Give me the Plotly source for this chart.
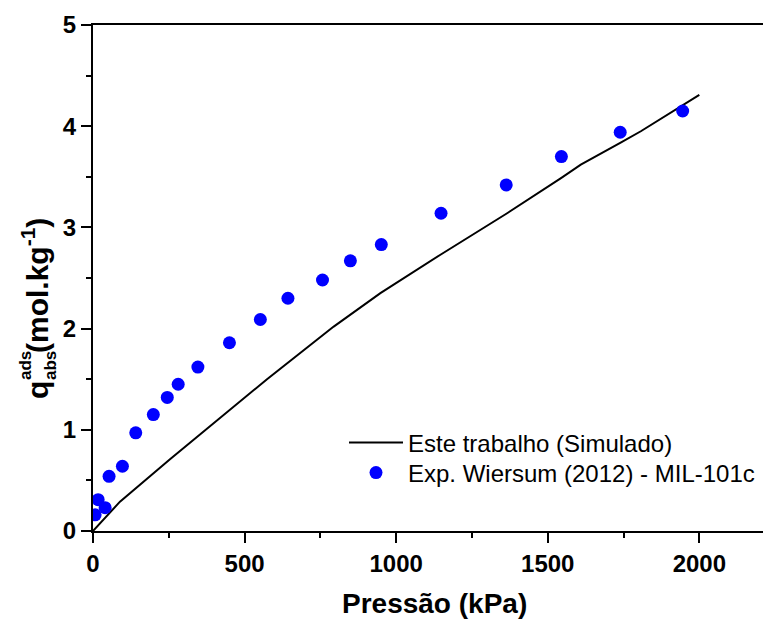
import plotly.graph_objects as go

# Simulated isotherm (pressure in kPa, absolute adsorbed amount in mol/kg)
sim_pressure = [0, 89, 254, 574, 794, 948, 1146, 1366, 1545, 1609, 1739, 1807, 2000]
sim_q = [0.0, 0.29, 0.71, 1.50, 2.02, 2.35, 2.73, 3.14, 3.49, 3.62, 3.835, 3.95, 4.31]

# Experimental data, Wiersum (2012), MIL-101c
exp_pressure = [7, 17, 40, 53, 97, 141, 199, 245, 281, 346, 450, 552, 643, 757,
                849, 951, 1148, 1363, 1545, 1739, 1945]
exp_q = [0.16, 0.31, 0.23, 0.54, 0.64, 0.97, 1.15, 1.32, 1.45, 1.62, 1.86, 2.09,
         2.30, 2.48, 2.67, 2.83, 3.14, 3.42, 3.70, 3.94, 4.15]

sim_name = "Este trabalho (Simulado)"
exp_name = "Exp. Wiersum (2012) - MIL-101c"
x_title = "Pressão (kPa)"

FONT = "Liberation Sans, Arial, sans-serif"
W, H = 763, 619
ML, MR, MT, MB = 93, 0, 25, 88
PW, PH = W - ML - MR, H - MT - MB


def px(x):
    return (x - ML) / PW


def py(y):
    return (H - MB - y) / PH


fig = go.Figure()
fig.add_trace(go.Scatter(
    x=sim_pressure, y=sim_q, mode="lines", name=sim_name,
    line=dict(color="black", width=2), legend="legend",
))
fig.add_trace(go.Scatter(
    x=exp_pressure, y=exp_q, mode="markers", name=exp_name,
    marker=dict(color="#0000FF", size=13, line=dict(width=0)), legend="legend2",
))

axis_common = dict(
    showgrid=False, zeroline=False, showline=True, linecolor="black",
    linewidth=2, ticks="outside", ticklen=10, tickwidth=2, tickcolor="black",
    tickfont=dict(family=FONT, size=24, color="black", weight="bold"),
)

fig.update_xaxes(
    range=[0, 2210], dtick=500, tick0=0, mirror=True,
    minor=dict(dtick=250, ticks="outside", ticklen=5, tickwidth=2, tickcolor="black"),
    **axis_common,
)
fig.update_yaxes(
    range=[0, 5], dtick=1, tick0=0,
    minor=dict(dtick=0.5, ticks="outside", ticklen=5, tickwidth=2, tickcolor="black"),
    **axis_common,
)

# Axis labels; the vertical one is q with stacked super/subscripts and units
title_font = dict(family=FONT, size=30, color="black", weight="bold")
small_font = dict(family=FONT, size=17, color="black", weight="bold")
annotations = [
    dict(text="q", x=px(37), y=py(390), font=title_font, textangle=-90),
    dict(text="ads", x=px(25), y=py(366), font=small_font, textangle=-90),
    dict(text="abs", x=px(50), y=py(366), font=small_font, textangle=-90),
    dict(text="(mol.kg<sup>-1</sup>)", x=px(35), y=py(285), font=title_font,
         textangle=-90),
    dict(text=x_title, x=px(434), y=py(603),
         font=dict(family=FONT, size=28, color="black", weight="bold")),
]
for a in annotations:
    a.update(xref="paper", yref="paper", showarrow=False,
             xanchor="center", yanchor="middle")

legend_common = dict(
    xanchor="left", yanchor="middle",
    bgcolor="rgba(0,0,0,0)", borderwidth=0, itemwidth=54,
    font=dict(family=FONT, size=24, color="black"),
)

fig.update_layout(
    width=W, height=H,
    margin=dict(l=ML, r=MR, t=MT, b=MB),
    paper_bgcolor="white", plot_bgcolor="white",
    showlegend=True,
    legend=dict(x=px(344), y=py(443), **legend_common),
    legend2=dict(x=px(344), y=py(473), **legend_common),
    annotations=annotations,
)

fig.write_html("out.html")
